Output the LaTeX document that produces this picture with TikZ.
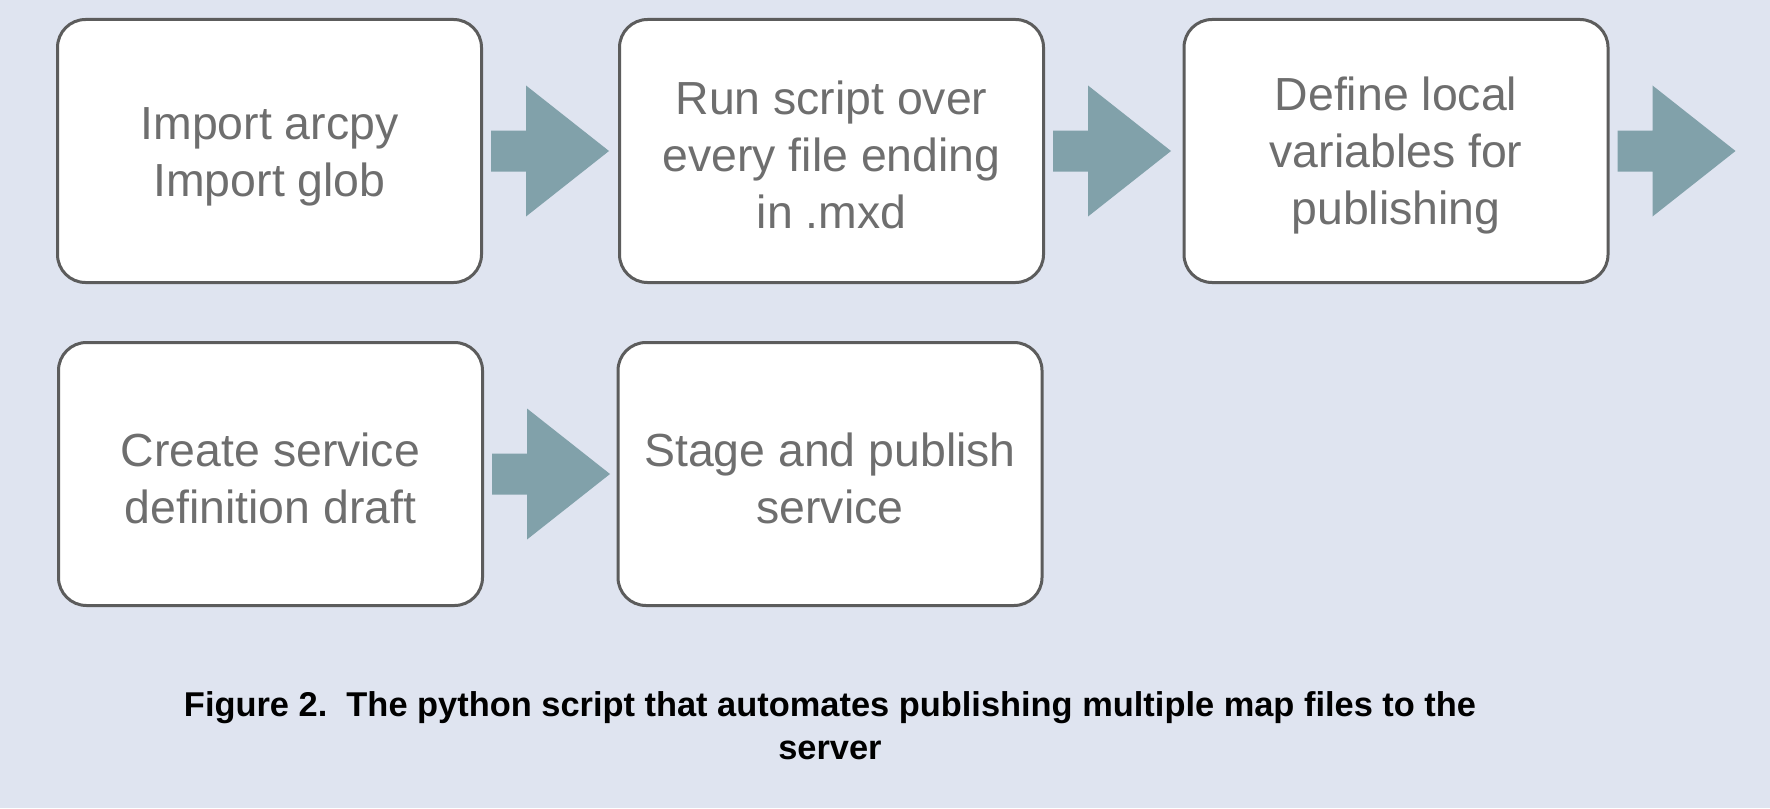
\documentclass[tikz,border=0pt]{standalone}
\usepackage{fontspec}
\setmainfont{Liberation Sans}
\usetikzlibrary{calc}
\definecolor{bgc}{RGB}{223,228,240}
\definecolor{arrc}{RGB}{129,161,170}
\definecolor{boxline}{RGB}{92,92,92}
\definecolor{boxtext}{RGB}{110,110,110}
\tikzset{
  stepbox/.style={draw=boxline, line width=1.5pt, fill=white, rounded corners=14pt,
    minimum width=212pt, minimum height=131.5pt, inner sep=0pt},
  boxlabel/.style={inner sep=0pt, align=center, text=boxtext,
    font=\fontsize{23.2}{28.5}\selectfont},
  blockarr/.style={fill=arrc, draw=none},
  captiontext/.style={font=\fontsize{17.2}{21.5}\selectfont\bfseries, align=center,
    text=black, inner sep=0pt}
}
\begin{document}
\begin{tikzpicture}[x=0.5pt,y=-0.5pt]
\fill[bgc] (0,0) rectangle (1770,808);
\useasboundingbox (0,0) rectangle (1770,808);
\node[stepbox] (b1) at (269.5,151) {};
\node[stepbox] (b2) at (831.5,151) {};
\node[stepbox] (b3) at (1396,151) {};
\node[stepbox] (b4) at (270.5,474) {};
\node[stepbox] (b5) at (830,474) {};
\node[boxlabel] (t1) at ($(b1.center)+(0,6)$) {Import arcpy\\Import glob};
\node[boxlabel] (t2) at ($(b2.center)+(0,4)$) {Run script over\\every file ending\\in .mxd};
\node[boxlabel] (t3) at ($(b3.center)+(0,5)$) {Define local\\variables for\\publishing};
\node[boxlabel] (t4) at ($(b4.center)+(0,4)$) {Create service\\definition draft};
\node[boxlabel] (t5) at ($(b5.center)+(0,4)$) {Stage and publish\\service};
\foreach \n in {b1,b2,b3,b4}{
  \fill[blockarr, shift={(\n.east)}] (8,-20.5) -- (43,-20.5) -- (43,-65.5) -- (126,0) -- (43,65.5) -- (43,20.5) -- (8,20.5) -- cycle;
}
\node[captiontext, anchor=north] (cap) at (830,691) {Figure 2.\ \ The python script that automates publishing multiple map files to the\\server};
\end{tikzpicture}
\end{document}
